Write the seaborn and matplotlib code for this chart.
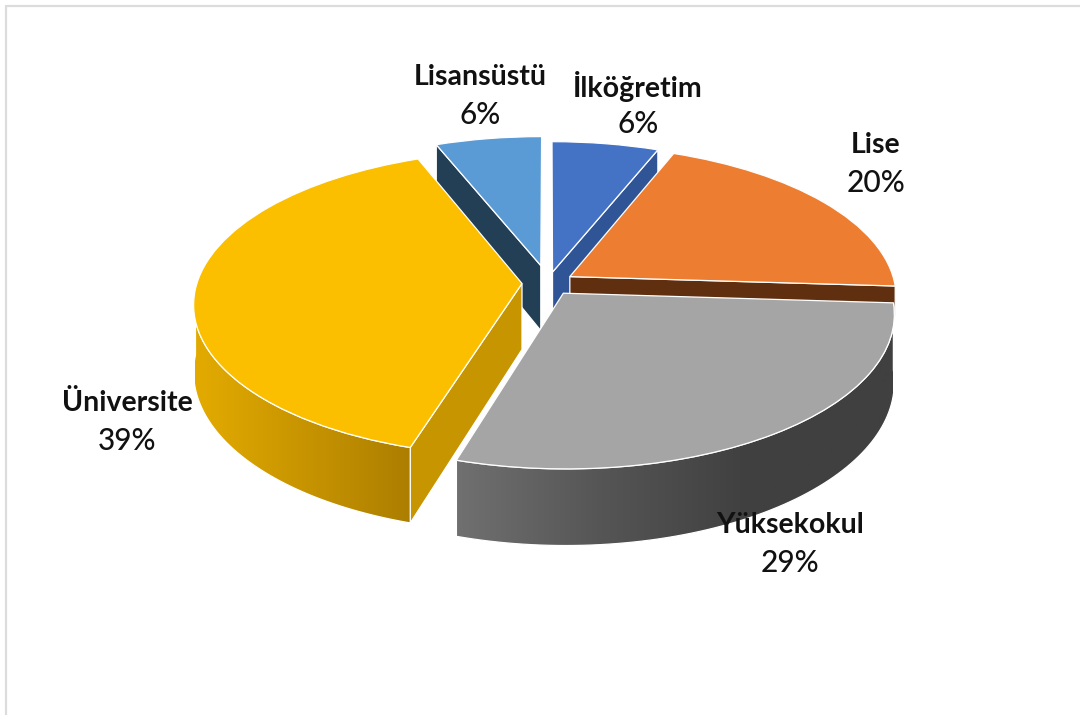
import numpy as np
import seaborn as sns
import matplotlib
matplotlib.use("Agg")
import matplotlib.pyplot as plt
from matplotlib.patches import Polygon
from matplotlib.transforms import Transform

# Chart data
categories = ["İlköğretim", "Lise", "Yüksekokul", "Üniversite", "Lisansüstü"]
values = [6, 20, 28.7, 39.3, 6]
explode = [0.075, 0.08, 0.082, 0.08, 0.12]

top_colors = ["#4472C4", "#ED7D31", "#A5A5A5", "#FBBF00", "#5B9BD5"]
wall_colors = ["#2F5597", "#5F2F10", "#000000", "#C69500", "#223F55"]
label_x = [638, 876, 790, 127, 480]
label_y = [86, 145, 525, 403, 77]

# Camera used for the tilted pie, everything in pixels
cx, cy = 548, 283
rx, ry = 325, 150
persp = 0.13
depth = 66


def project(xy, z=0.0):
    xy = np.asarray(xy, dtype=float)
    s = 1.0 / (1.0 + persp * xy[..., 1])
    px = cx + rx * xy[..., 0] * s
    py = cy - ry * xy[..., 1] * s + z * depth * s
    return np.stack([px, py], axis=-1)


class Tilt(Transform):
    input_dims = 2
    output_dims = 2
    is_affine = False

    def transform_non_affine(self, values):
        return project(values)


def arc(w, t1, t2, n=80):
    t = np.radians(np.linspace(t1, t2, n))
    return np.column_stack([w.center[0] + w.r * np.cos(t), w.center[1] + w.r * np.sin(t)])


def radial(w, t):
    return np.array([w.center, arc(w, t, t, 1)[0]])


def add_wall(top_edge, color, zorder, z=1.0):
    poly = np.vstack([project(top_edge), project(top_edge[::-1], z)])
    patch = Polygon(poly, closed=True, facecolor=color, zorder=zorder,
                    edgecolor="white", linewidth=0.9)
    ax.add_patch(patch)
    return patch


def add_gradient_wall(top_edge, colors, x0, x1, zorder):
    patch = add_wall(top_edge, "none", zorder + 1)
    cmap = sns.blend_palette(colors, as_cmap=True)
    im = ax.imshow(np.linspace(0, 1, 256)[None, :], extent=(x0, x1, 715, 0),
                   cmap=cmap, aspect="auto", zorder=zorder)
    im.set_clip_path(patch)


sns.set_theme(style="white")
plt.rcParams["font.family"] = ["Lato", "DejaVu Sans"]

fig = plt.figure(figsize=(10.8, 7.15), dpi=100)
ax = fig.add_axes([0, 0, 1, 1])

wedges, _ = ax.pie(values, colors=top_colors, explode=explode, startangle=90,
                   counterclock=False, wedgeprops={"edgecolor": "white", "linewidth": 0.9})
ax.set_aspect("auto")

tilt = Tilt()
for w in wedges:
    w.set_transform(tilt + ax.transData)

ilk, lise, yuk, uni, lis = wedges

# Back to front, each slice gets its walls and then its top
add_wall(radial(lis, lis.theta2), wall_colors[4], 1)
lis.set_zorder(2)

add_wall(radial(ilk, ilk.theta1), wall_colors[0], 3)
ilk.set_zorder(4)

# only the part above the grey slice shows
add_wall(radial(lise, lise.theta1), wall_colors[1], 5, z=0.45)
lise.set_zorder(6)

add_wall(radial(uni, uni.theta2), wall_colors[3], 7)
add_gradient_wall(arc(uni, -178, uni.theta2), ["#E3AB00", "#AC7E00"], 195, 412, 8)
uni.set_zorder(10)

add_gradient_wall(arc(yuk, yuk.theta1, yuk.theta2), ["#707070", "#555555", "#404040", "#404040"], 457, 893, 11)
yuk.set_zorder(13)

# Frame of the chart area, only left and top are visible
ax.plot([6, 6], [715, 6], color="#DCDCDC", lw=1.6, zorder=0)
ax.plot([6, 1080], [6, 6], color="#DCDCDC", lw=1.6, zorder=0)

for name, val, x, y in zip(categories, values, label_x, label_y):
    ax.text(x, y, name, ha="center", va="center", fontsize=20.5, fontweight="bold", color="#111111", zorder=20)
    ax.text(x, y + 38, f"{val:.0f}%", ha="center", va="center", fontsize=21.5, fontweight="medium", color="#111111", zorder=20)

ax.set_xlim(0, 1080)
ax.set_ylim(715, 0)
ax.axis("off")

fig.savefig("out.png", dpi=100)
